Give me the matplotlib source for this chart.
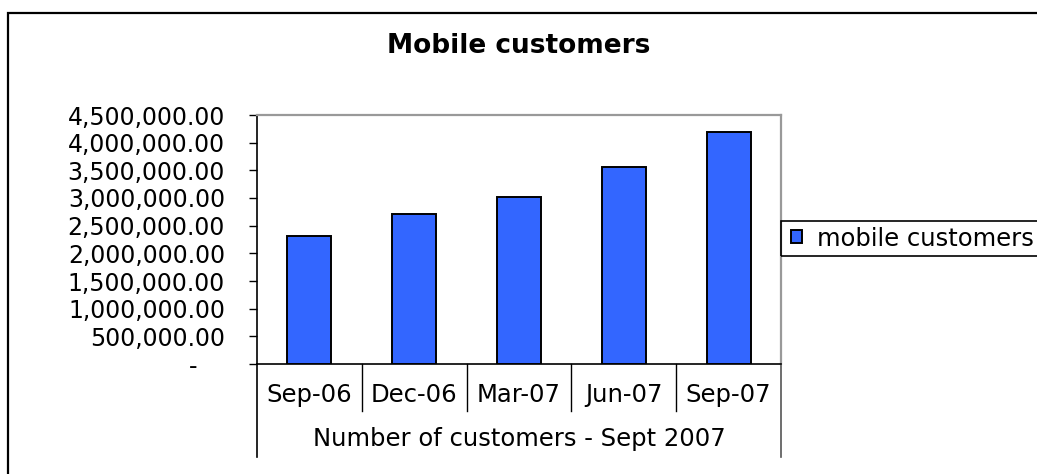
import matplotlib.pyplot as plt
from matplotlib.patches import Rectangle
from matplotlib.ticker import FuncFormatter, MultipleLocator
from matplotlib.transforms import ScaledTranslation

plt.rcParams["font.family"] = ["DejaVu Sans"]

# quarterly mobile customer counts
quarters = ["Sep-06", "Dec-06", "Mar-07", "Jun-07", "Sep-07"]
customers = [2313000, 2711000, 3024000, 3566000, 4187000]
series_name = "mobile customers"
group_label = "Number of customers - Sept 2007"
title = "Mobile customers"

W, H = 1037, 474
fig = plt.figure(figsize=(W / 100, H / 100), dpi=100)
fig.patch.set_facecolor("white")

# plot area in pixel terms
x0, x1 = 257, 781
y_top, y_bot = 115, 364
ax = fig.add_axes([x0 / W, (H - y_bot) / H, (x1 - x0) / W, (y_bot - y_top) / H])

xs = range(len(quarters))
bars = ax.bar(xs, customers, width=0.42, color="#3366FF", edgecolor="black",
              linewidth=1.4, label=series_name, zorder=3)

ax.set_xlim(-0.5, len(quarters) - 0.5)
ax.set_ylim(0, 4500000)
ax.yaxis.set_major_locator(MultipleLocator(500000))
ax.yaxis.set_major_formatter(FuncFormatter(lambda v, p: "-" if v == 0 else f"{v:,.2f}"))
ax.tick_params(axis="y", direction="out", length=6, width=1, color="black",
               labelsize=17, pad=17)
ax.set_xticks([])

for side in ("top", "right"):
    ax.spines[side].set_color("#999999")
    ax.spines[side].set_linewidth(1.6)
for side in ("left", "bottom"):
    ax.spines[side].set_color("black")
    ax.spines[side].set_linewidth(1.2)

fig.canvas.draw()
# accounting-style dash for zero sits left of the other labels
for lab in ax.get_yticklabels():
    if lab.get_text() == "-":
        lab.set_transform(lab.get_transform() + ScaledTranslation(-0.28, 0, fig.dpi_scale_trans))

# category grid below the axis
trans = ax.get_xaxis_transform()
row1 = -(411 - y_bot) / (y_bot - y_top)
row2 = -(457 - y_bot) / (y_bot - y_top)
for i in range(1, len(quarters)):
    ax.plot([i - 0.5, i - 0.5], [0, row1], color="black", lw=1, transform=trans, clip_on=False)
ax.plot([-0.5, -0.5], [0, row2], color="black", lw=1.2, transform=trans, clip_on=False)
ax.plot([len(quarters) - 0.5] * 2, [0, row2], color="#555555", lw=1.2, transform=trans, clip_on=False)

for i, q in enumerate(quarters):
    ax.text(i, -(395 - y_bot) / (y_bot - y_top), q, transform=trans, ha="center",
            va="center", fontsize=17.5)
ax.text((len(quarters) - 1) / 2, -(439 - y_bot) / (y_bot - y_top), group_label,
        transform=trans, ha="center", va="center", fontsize=17.5)

# legend to the right of the plot; its box runs off the right edge
leg = ax.legend(loc="center left", bbox_to_anchor=(1.0, (y_bot - 238.5) / (y_bot - y_top)),
                borderaxespad=0, fontsize=17.5, frameon=False,
                handlelength=0.45, handleheight=0.45, handletextpad=0.65, borderpad=0.4)
fig.patches.append(Rectangle((x1 / W, (H - 256) / H), (W + 10 - x1) / W, 35 / H,
                             transform=fig.transFigure, fill=False, edgecolor="black",
                             linewidth=1.2, clip_on=False))

fig.text(0.5, (H - 46) / H, title, ha="center", va="center", fontsize=19, fontweight="bold")

# outer chart border
fig.patches.append(Rectangle((8 / W, -0.05), 1.1, (H - 13) / H + 0.05, transform=fig.transFigure,
                             fill=False, edgecolor="black", linewidth=1.6, clip_on=False))

fig.savefig("out.png", dpi=100)
